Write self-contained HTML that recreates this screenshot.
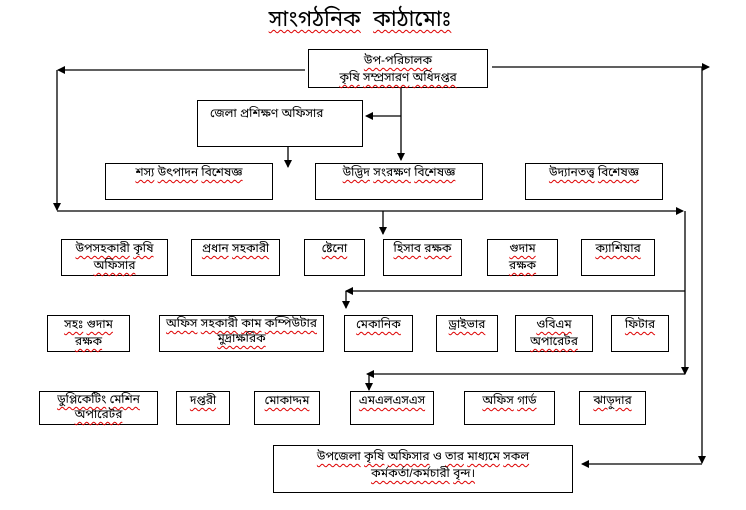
<!DOCTYPE html>
<html><head><meta charset="utf-8"><style>
html,body{margin:0;padding:0;background:#fff;}
body{width:746px;height:510px;position:relative;overflow:hidden;font-family:"Liberation Sans","Noto Sans Bengali",sans-serif;color:#000;}
.b{position:absolute;border:1px solid #000;box-sizing:border-box;text-align:center;font-size:12px;line-height:17px;background:#fff;}
.b span,.t span{text-decoration:underline wavy #d00;text-decoration-thickness:1px;text-underline-offset:3px;}
.t{position:absolute;left:0;width:720px;text-align:center;top:6px;font-size:22px;}
svg{position:absolute;left:0;top:0;}
</style></head><body>
<div class="t"><span>সাংগঠনিক</span>&nbsp; <span>কাঠামোঃ</span></div>
<svg width="746" height="510">
<defs><marker id="a" markerWidth="8" markerHeight="8" refX="7" refY="4" orient="auto" markerUnits="userSpaceOnUse"><path d="M0,0 L8,4 L0,8z" fill="#000"/></marker></defs>
<g stroke="#000" stroke-width="1.3" fill="none">
<line x1="305" y1="70" x2="58" y2="70" marker-end="url(#a)"/>
<line x1="57" y1="70" x2="57" y2="210" marker-end="url(#a)"/>
<line x1="57" y1="211" x2="683" y2="211" marker-end="url(#a)"/>
<line x1="492" y1="67" x2="709" y2="67" marker-end="url(#a)"/>
<line x1="702" y1="67" x2="702" y2="463" marker-end="url(#a)"/>
<line x1="702" y1="464" x2="582" y2="464" marker-end="url(#a)"/>
<line x1="401" y1="88" x2="401" y2="160" marker-end="url(#a)"/>
<line x1="401" y1="116" x2="366" y2="116" marker-end="url(#a)"/>
<line x1="288" y1="147" x2="288" y2="167" marker-end="url(#a)"/>
<line x1="383" y1="211" x2="383" y2="234" marker-end="url(#a)"/>
<line x1="685" y1="211" x2="685" y2="374" marker-end="url(#a)"/>
<line x1="685" y1="291" x2="346" y2="291" marker-end="url(#a)"/>
<line x1="346" y1="291" x2="346" y2="308" marker-end="url(#a)"/>
<line x1="685" y1="374" x2="367" y2="374" marker-end="url(#a)"/>
<line x1="369" y1="374" x2="369" y2="390" marker-end="url(#a)"/>
</g></svg>
<div class="b" style="left:308px;top:49px;width:180px;height:39px;padding-top:2px"><span>উপ-পরিচালক</span><br><span>কৃষি</span> <span>সম্প্রসারণ</span> <span>অধিদপ্তর</span></div>
<div class="b" style="left:197px;top:100px;width:166px;height:47px;padding-top:4px;text-align:left;padding-left:12px">জেলা প্রশিক্ষণ অফিসার</div>
<div class="b" style="left:105px;top:163px;width:168px;height:37px"><span>শস্য</span> <span>উৎপাদন</span> <span>বিশেষজ্ঞ</span></div>
<div class="b" style="left:315px;top:163px;width:168px;height:37px"><span>উদ্ভিদ</span> <span>সংরক্ষণ</span> <span>বিশেষজ্ঞ</span></div>
<div class="b" style="left:525px;top:163px;width:138px;height:37px"><span>উদ্যানতত্ত্ব</span> <span>বিশেষজ্ঞ</span></div>

<div class="b" style="left:61px;top:239px;width:107px;height:37px"><span>উপসহকারী</span> <span>কৃষি</span><br><span>অফিসার</span></div>
<div class="b" style="left:191px;top:239px;width:89px;height:37px"><span>প্রধান</span> <span>সহকারী</span></div>
<div class="b" style="left:304px;top:239px;width:61px;height:37px"><span>ষ্টেনো</span></div>
<div class="b" style="left:383px;top:239px;width:79px;height:37px"><span>হিসাব</span> <span>রক্ষক</span></div>
<div class="b" style="left:487px;top:239px;width:71px;height:37px"><span>গুদাম</span><br><span>রক্ষক</span></div>
<div class="b" style="left:581px;top:239px;width:74px;height:37px"><span>ক্যাশিয়ার</span></div>

<div class="b" style="left:47px;top:315px;width:83px;height:37px"><span>সহঃ</span> <span>গুদাম</span><br><span>রক্ষক</span></div>
<div class="b" style="left:159px;top:315px;width:165px;height:37px;line-height:15px"><span>অফিস</span> <span>সহকারী</span> <span>কাম</span> <span>কম্পিউটার</span><br><span>মুদ্রাক্ষরিক</span></div>
<div class="b" style="left:344px;top:315px;width:69px;height:37px"><span>মেকানিক</span></div>
<div class="b" style="left:436px;top:315px;width:62px;height:37px"><span>ড্রাইভার</span></div>
<div class="b" style="left:515px;top:315px;width:78px;height:37px"><span>ওবিএম</span><br><span>অপারেটর</span></div>
<div class="b" style="left:611px;top:315px;width:58px;height:37px"><span>ফিটার</span></div>

<div class="b" style="left:39px;top:391px;width:119px;height:34px;line-height:15px"><span>ডুপ্লিকেটিং</span> <span>মেশিন</span><br><span>অপারেটর</span></div>
<div class="b" style="left:176px;top:391px;width:54px;height:34px"><span>দপ্তরী</span></div>
<div class="b" style="left:254px;top:391px;width:66px;height:34px"><span>মোকাদ্দম</span></div>
<div class="b" style="left:350px;top:391px;width:84px;height:34px"><span>এমএলএসএস</span></div>
<div class="b" style="left:464px;top:391px;width:91px;height:34px"><span>অফিস</span> <span>গার্ড</span></div>
<div class="b" style="left:579px;top:391px;width:67px;height:34px"><span>ঝাড়ুদার</span></div>

<div class="b" style="left:273px;top:445px;width:300px;height:48px;padding-top:2px"><span>উপজেলা</span> <span>কৃষি</span> <span>অফিসার</span> ও <span>তার</span> <span>মাধ্যমে</span> <span>সকল</span><br><span>কর্মকর্তা/কর্মচারী</span> <span>বৃন্দ।</span></div>
</body></html>
